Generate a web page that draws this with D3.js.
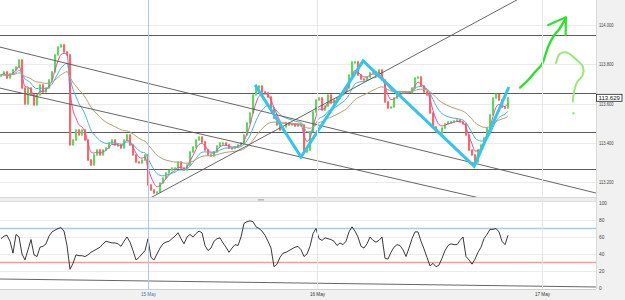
<!DOCTYPE html>
<html><head><meta charset="utf-8">
<script src="https://cdn.jsdelivr.net/npm/d3@7"></script>
<style>html,body{margin:0;padding:0;background:#fff;}svg{display:block}</style>
</head><body><svg id="c" width="625" height="300"></svg>
<script>
// ---------- DATA ----------
const closes = [
113.745,113.761,113.730,113.751,113.771,113.786,113.822,113.679,113.598,113.679,
113.644,113.593,113.644,113.695,113.659,113.679,113.720,113.761,113.848,113.888,
113.899,113.863,113.848,113.389,113.414,113.465,113.440,113.465,113.414,113.312,
113.287,113.338,113.363,113.338,113.363,113.373,113.399,113.414,113.389,113.389,
113.373,113.414,113.440,113.389,113.338,113.302,113.297,113.312,113.338,113.185,
113.159,113.144,113.149,113.195,113.220,113.246,113.261,113.271,113.271,113.302,
113.271,113.261,113.287,113.353,113.378,113.414,113.429,113.404,113.363,113.338,
113.332,113.353,113.383,113.399,113.399,113.389,113.373,113.373,113.378,113.389,
113.399,113.440,113.501,113.552,113.644,113.679,113.689,113.659,113.654,113.633,
113.577,113.526,113.491,113.465,113.480,113.501,113.491,113.496,113.485,113.491,
113.491,113.353,113.363,113.455,113.557,113.618,113.628,113.567,113.587,113.644,
113.603,113.618,113.628,113.649,113.659,113.679,113.745,113.812,113.812,113.745,
113.725,113.720,113.735,113.756,113.761,113.745,113.771,113.720,113.608,113.577,
113.582,113.628,113.654,113.659,113.659,113.659,113.654,113.679,113.730,113.735,
113.689,113.659,113.644,113.552,113.480,113.455,113.450,113.475,113.496,113.506,
113.506,113.511,113.516,113.506,113.496,113.440,113.363,113.338,113.302,113.363,
113.389,113.424,113.475,113.542,113.628,113.649,113.618,113.582,113.577,113.629
];
const rsiValues = [
58,61,62,55,41,63,60,40,33,45,
57,39,37,48,49,52,61,66,68,70,
71,67,50,22,29,39,38,38,37,39,
42,44,46,48,52,55,54,53,53,52,
49,55,60,54,44,33,36,40,44,58,
36,33,40,47,52,54,55,58,61,65,
58,52,60,63,60,64,67,65,50,44,
47,55,58,59,53,48,42,47,51,50,
60,76,78,79,78,72,70,67,62,55,
47,25,28,36,41,42,44,46,48,49,
45,37,40,49,64,70,58,56,59,58,
57,55,50,53,51,55,66,72,67,60,
49,47,52,60,56,54,56,60,35,34,
42,48,51,50,45,37,47,58,66,66,
55,46,36,26,29,25,27,35,44,50,
52,51,51,56,60,37,33,28,34,42,
48,58,63,69,69,70,66,55,51,62
];
const priceTicks = [113.2, 113.4, 113.6, 113.8, 114.0];
const rsiTicks = [0, 20, 40, 60, 80, 100];
const rsiBands = [70, 30];
const dayLabels = ["15 May", "16 May", "17 May"];
const dayIndex = [49, 105.3, 180.3];
const levelPrices = [113.950, 113.654, 113.455, 113.264];
const lastPrice = 113.629;
const maPeriods = [4, 10, 24];
const trendLines = [
  [[-0.5, 113.888], [198.3, 113.144]],
  [[-0.5, 113.679], [159.7, 113.118]],
  [[49.7, 113.118], [172.0, 114.128]]
];
const rsiTrend = [[-0.5, 10.6], [198.3, 1.2]];
const zigzag = [[84.7, 113.695], [100.0, 113.327], [120.7, 113.817], [157.7, 113.281], [169.3, 113.684]];
const arrowPath = [[173.0,113.681],[175.2,113.711],[178.6,113.771],[180.2,113.797],[181.3,113.839],[182.4,113.890],[184.1,113.941],[186.3,113.984],[188.3,114.035]];
const arrowHead = [[182.4,114.000],[188.3,114.040],[188.2,113.950]];
const questionPath = [[185.0,113.806],[186.3,113.853],[188.6,113.860],[191.9,113.822],[194.0,113.787],[193.9,113.746],[191.9,113.705],[191.0,113.659],[190.6,113.609]];
const questionDot = [190.8, 113.550];

// ---------- LAYOUT ----------
const W = 625, H = 300, plotR = 596;
const mainTop = 0, mainBot = 197, rsiTop = 202, rsiBot = 289;
const svg = d3.select("#c");
const x = d3.scaleLinear().domain([0, closes.length - 1]).range([1, 508]);
const y = d3.scaleLinear().domain([113.2, 114.0]).range([182, 25]);
const yr = d3.scaleLinear().domain([0, 100]).range([288, 203]);
const font = "Liberation Sans, Arial, sans-serif";

// backgrounds
svg.append("rect").attr("width", W).attr("height", H).attr("fill", "#fff");
svg.append("rect").attr("x", plotR).attr("y", 0).attr("width", W - plotR).attr("height", H).attr("fill", "#f1f1f1");
svg.append("rect").attr("x", 0).attr("y", rsiBot).attr("width", W).attr("height", H - rsiBot).attr("fill", "#f1f1f1");
svg.append("rect").attr("x", 0).attr("y", mainBot).attr("width", plotR).attr("height", rsiTop - mainBot).attr("fill", "#eeeeee");
svg.append("line").attr("x1", 0).attr("x2", plotR).attr("y1", mainBot + 0.5).attr("y2", mainBot + 0.5).attr("stroke", "#d6d6d6");
svg.append("line").attr("x1", 0).attr("x2", plotR).attr("y1", rsiTop - 0.5).attr("y2", rsiTop - 0.5).attr("stroke", "#dddddd");
svg.append("rect").attr("x", 258).attr("y", 199).attr("width", 6).attr("height", 1.6).attr("fill", "#bbbbbb");
svg.append("line").attr("x1", plotR + 0.5).attr("x2", plotR + 0.5).attr("y1", 0).attr("y2", rsiBot).attr("stroke", "#d8d8d8");
svg.append("line").attr("x1", 0).attr("x2", plotR).attr("y1", rsiBot + 0.5).attr("y2", rsiBot + 0.5).attr("stroke", "#cfcfcf");

// clip paths
const defs = svg.append("defs");
defs.append("clipPath").attr("id", "cm").append("rect").attr("x", 0).attr("y", mainTop).attr("width", plotR).attr("height", mainBot - mainTop);
defs.append("clipPath").attr("id", "cr").append("rect").attr("x", 0).attr("y", rsiTop).attr("width", plotR).attr("height", rsiBot - rsiTop);

const gm = svg.append("g").attr("clip-path", "url(#cm)");
const gr = svg.append("g").attr("clip-path", "url(#cr)");

// price gridlines
gm.selectAll(".pg").data(priceTicks).join("line")
  .attr("x1", 0).attr("x2", plotR).attr("y1", d => Math.round(y(d)) + 0.5).attr("y2", d => Math.round(y(d)) + 0.5)
  .attr("stroke", "#ebebeb");
gr.selectAll(".rg").data(rsiTicks.slice(1, 5)).join("line")
  .attr("x1", 0).attr("x2", plotR).attr("y1", d => Math.round(yr(d)) + 0.5).attr("y2", d => Math.round(yr(d)) + 0.5)
  .attr("stroke", "#ececec");

// day verticals
dayIndex.forEach((d, i) => {
  const xx = Math.round(x(d)) + 0.5;
  svg.append("line").attr("x1", xx).attr("x2", xx).attr("y1", 0).attr("y2", rsiBot)
    .attr("stroke", i === 0 ? "#b4c6e6" : "#e6e6e6").attr("stroke-width", 1);
  svg.append("text").attr("x", xx).attr("y", 295.5).attr("text-anchor", "middle")
    .attr("font-family", font).attr("font-size", 4.6).attr("fill", i === 0 ? "#4a6fb5" : "#333")
    .text(dayLabels[i]);
});

// rsi bands
gr.selectAll(".rb").data(rsiBands).join("line")
  .attr("x1", 0).attr("x2", plotR).attr("y1", d => yr(d)).attr("y2", d => yr(d))
  .attr("stroke", (d, i) => i === 0 ? "#a9cbe0" : "#f39a9a").attr("stroke-width", 1.4);

// level lines
gm.selectAll(".lv").data(levelPrices).join("line")
  .attr("x1", 0).attr("x2", plotR).attr("y1", d => Math.round(y(d)) + 0.5).attr("y2", d => Math.round(y(d)) + 0.5)
  .attr("stroke", "#5a5a5a").attr("stroke-width", 1);

// candles
const candles = closes.map((c, i) => {
  const o = i === 0 ? c : closes[i - 1];
  return { i, o, c, up: c >= o };
});
const cg = gm.append("g");
candles.forEach(d => {
  const cx = x(d.i);
  const top = y(Math.max(d.o, d.c)), bot = y(Math.min(d.o, d.c));
  const h = Math.max(1, bot - top);
  cg.append("rect").attr("x", cx - 1.1).attr("y", top).attr("width", 2.4).attr("height", h)
    .attr("fill", d.up ? "#9be59b" : "#f7a9a9");
  cg.append("rect").attr("x", cx - 0.5).attr("y", top - 1).attr("width", 1).attr("height", h + 2)
    .attr("fill", d.up ? "#2ec22e" : "#e93030");
});

// moving averages
function ema(arr, n) {
  const k = 2 / (n + 1); let prev = arr[0];
  return arr.map((v, i) => (prev = i === 0 ? v : v * k + prev * (1 - k)));
}
const maColors = ["#e0509f", "#4fb0c8", "#b99c78"];
maPeriods.forEach((p, j) => {
  const m = ema(closes, p);
  gm.append("path").datum(m)
    .attr("d", d3.line().x((d, i) => x(i)).y(d => y(d)).curve(d3.curveMonotoneX))
    .attr("fill", "none").attr("stroke", maColors[j]).attr("stroke-width", 1);
});

// trend lines
const lineP = d3.line().x(d => x(d[0])).y(d => y(d[1]));
trendLines.forEach(t => {
  gm.append("path").attr("d", lineP(t)).attr("fill", "none").attr("stroke", "#555").attr("stroke-width", 0.9);
});

// zigzag
gm.append("path").attr("d", lineP(zigzag)).attr("fill", "none")
  .attr("stroke", "#35c5e6").attr("stroke-width", 3).attr("stroke-linejoin", "miter");

// green arrow
gm.append("path").attr("d", d3.line().x(d => x(d[0])).y(d => y(d[1])).curve(d3.curveCatmullRom)(arrowPath))
  .attr("fill", "none").attr("stroke", "#2fe02f").attr("stroke-width", 2.4).attr("stroke-linecap", "round");
gm.append("path").attr("d", lineP(arrowHead)).attr("fill", "none")
  .attr("stroke", "#2fe02f").attr("stroke-width", 2.2).attr("stroke-linecap", "round").attr("stroke-linejoin", "round");
// question mark
gm.append("path").attr("d", d3.line().x(d => x(d[0])).y(d => y(d[1])).curve(d3.curveCatmullRom)(questionPath))
  .attr("fill", "none").attr("stroke", "#98e67c").attr("stroke-width", 2).attr("stroke-linecap", "round");
gm.append("circle").attr("cx", x(questionDot[0])).attr("cy", y(questionDot[1])).attr("r", 1.2).attr("fill", "#98e67c");

// RSI
gr.append("path").attr("d", d3.line().x(d => x(d[0])).y(d => yr(d[1]))(rsiTrend))
  .attr("fill", "none").attr("stroke", "#555").attr("stroke-width", 0.9);
gr.append("path").datum(rsiValues)
  .attr("d", d3.line().x((d, i) => x(i)).y(d => yr(d)))
  .attr("fill", "none").attr("stroke", "#222").attr("stroke-width", 0.9);

// axes labels
const yAxis = d3.axisRight(y).tickValues(priceTicks).tickSize(0).tickFormat(d3.format(".3f"));
const ga = svg.append("g").attr("transform", `translate(${plotR + 1},0)`).call(yAxis);
ga.select(".domain").remove();
ga.selectAll("text").attr("font-family", font).attr("font-size", 5).attr("fill", "#444").attr("x", 2)
  .attr("textLength", 14.5).attr("lengthAdjust", "spacingAndGlyphs");
const rAxis = d3.axisRight(yr).tickValues(rsiTicks).tickSize(0);
const gra = svg.append("g").attr("transform", `translate(${plotR + 1},0)`).call(rAxis);
gra.select(".domain").remove();
gra.selectAll("text").attr("font-family", font).attr("font-size", 4.8).attr("fill", "#444").attr("x", 2);

// last price box
const ly = y(lastPrice);
svg.append("rect").attr("x", plotR + 0.5).attr("y", ly - 3.5).attr("width", 25.5).attr("height", 7)
  .attr("fill", "#fff").attr("stroke", "#222").attr("stroke-width", 0.8);
svg.append("text").attr("x", plotR + 2.5).attr("y", ly + 2.2).attr("font-family", font).attr("font-size", 6)
  .attr("fill", "#111").attr("textLength", 21.5).attr("lengthAdjust", "spacingAndGlyphs").text(lastPrice.toFixed(3));
</script></body></html>
